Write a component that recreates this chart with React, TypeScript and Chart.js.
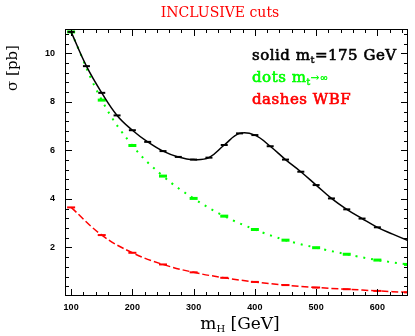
import React, { useEffect, useRef } from "react";
import { Chart, registerables } from "chart.js";

Chart.register(...registerables);

// ---- data ----
const blackMass = [100, 125, 150, 175, 200, 225, 250, 275, 300, 325, 350, 375, 400, 425, 450, 475, 500, 525, 550, 575, 600, 625, 650];
const blackXsec = [10.88, 9.47, 8.37, 7.44, 6.83, 6.35, 5.97, 5.73, 5.62, 5.70, 6.22, 6.70, 6.63, 6.17, 5.62, 5.12, 4.57, 4.02, 3.57, 3.19, 2.83, 2.55, 2.28];
const blackMarkerShown = [1, 1, 1, 1, 1, 1, 1, 1, 1, 1, 1, 1, 1, 1, 1, 1, 1, 1, 1, 1, 1, 0, 0];

const greenMass = [100, 150, 200, 250, 300, 350, 400, 450, 500, 550, 600, 650];
const greenXsec = [10.88, 8.07, 6.2, 4.94, 4.02, 3.29, 2.74, 2.3, 1.99, 1.72, 1.48, 1.3];

const redMass = [100, 150, 200, 250, 300, 350, 400, 450, 500, 550, 600, 650];
const redXsec = [3.65, 2.51, 1.78, 1.3, 0.975, 0.75, 0.58, 0.45, 0.35, 0.28, 0.21, 0.15];

const xTickValues = [100, 200, 300, 400, 500, 600];
const yTickValues = [2, 4, 6, 8, 10];
const xMinorStep = 20;
const yMinorStep = 0.4;

const titleText = "INCLUSIVE cuts";
const legendBlack = ["solid m", "t", "=175 GeV"];
const legendGreen = ["dots m", "t", "\u2192\u221E"];
const legendRed = "dashes WBF";
const yTitle = "\u03C3 [pb]";
const xTitle = ["m", "H", " [GeV]"];

const SERIF = '"DejaVu Serif", serif';

type Part = { text: string; font: string; dy: number; color: string; stroke?: number; spacing?: number };

function drawParts(ctx: CanvasRenderingContext2D, x: number, y: number, parts: Part[]) {
  let cx = x;
  for (const p of parts) {
    ctx.font = p.font;
    (ctx as any).letterSpacing = `${p.spacing || 0}px`;
    ctx.fillStyle = p.color;
    ctx.fillText(p.text, cx, y + p.dy);
    if (p.stroke) {
      ctx.strokeStyle = p.color;
      ctx.lineWidth = p.stroke;
      ctx.strokeText(p.text, cx, y + p.dy);
    }
    cx += ctx.measureText(p.text).width;
  }
  (ctx as any).letterSpacing = "0px";
}
function partsWidth(ctx: CanvasRenderingContext2D, parts: Part[]) {
  let w = 0;
  for (const p of parts) {
    ctx.font = p.font;
    (ctx as any).letterSpacing = `${p.spacing || 0}px`;
    w += ctx.measureText(p.text).width;
  }
  (ctx as any).letterSpacing = "0px";
  return w;
}

const framePlugin = {
  id: "frame",
  afterDraw(chart: any) {
    const ctx: CanvasRenderingContext2D = chart.ctx;
    const a = chart.chartArea;
    const xs = chart.scales.x;
    const ys = chart.scales.y;
    ctx.save();
    ctx.strokeStyle = "#000";
    ctx.lineWidth = 1;
    ctx.strokeRect(a.left + 0.5, a.top + 0.5, a.right - a.left - 1, a.bottom - a.top - 1);
    ctx.beginPath();
    for (let v = xTickValues[0]; v <= xs.max; v += xMinorStep) {
      const major = xTickValues.includes(v);
      const len = major ? 7 : 4;
      const px = Math.round(xs.getPixelForValue(v)) + 0.5;
      ctx.moveTo(px, a.bottom);
      ctx.lineTo(px, a.bottom - len);
      ctx.moveTo(px, a.top);
      ctx.lineTo(px, a.top + len);
    }
    for (let i = 1; i * yMinorStep <= ys.max; i++) {
      const v = i * yMinorStep;
      const major = yTickValues.some((t) => Math.abs(t - v) < 1e-6);
      const len = major ? 7 : 4;
      const py = Math.round(ys.getPixelForValue(v)) + 0.5;
      ctx.moveTo(a.left, py);
      ctx.lineTo(a.left + len, py);
      ctx.moveTo(a.right, py);
      ctx.lineTo(a.right - len, py);
    }
    ctx.stroke();

    ctx.textBaseline = "alphabetic";
    ctx.textAlign = "left";
    const tParts: Part[] = [{ text: titleText, font: `14px ${SERIF}`, dy: 0, color: "#ff0000" }];
    const tw = partsWidth(ctx, tParts);
    drawParts(ctx, 220 - tw / 2, 17, tParts);

    const big = `15px ${SERIF}`;
    const small = `10px ${SERIF}`;
    const sw = 0.6;
    const sp = 0.5;
    drawParts(ctx, 252, 60, [
      { text: legendBlack[0], font: big, dy: 0, color: "#000", stroke: sw, spacing: sp },
      { text: legendBlack[1], font: small, dy: 3, color: "#000", stroke: 0.4, spacing: sp },
      { text: legendBlack[2], font: big, dy: 0, color: "#000", stroke: sw, spacing: sp },
    ]);
    drawParts(ctx, 252, 82, [
      { text: legendGreen[0], font: big, dy: 0, color: "#00ff00", stroke: sw, spacing: sp },
      { text: legendGreen[1], font: small, dy: 3, color: "#00ff00", stroke: 0.4, spacing: sp },
      { text: legendGreen[2], font: small, dy: -1, color: "#00ff00", stroke: 0.4, spacing: sp },
    ]);
    drawParts(ctx, 252, 104, [{ text: legendRed, font: big, dy: 0, color: "#ff0000", stroke: sw, spacing: sp }]);

    const xParts: Part[] = [
      { text: xTitle[0], font: `17px ${SERIF}`, dy: 0, color: "#000" },
      { text: xTitle[1], font: `10px ${SERIF}`, dy: 3, color: "#000" },
      { text: xTitle[2], font: `17px ${SERIF}`, dy: 0, color: "#000" },
    ];
    const xw = partsWidth(ctx, xParts);
    drawParts(ctx, 240 - xw / 2, 329, xParts);

    ctx.save();
    ctx.translate(17, 68);
    ctx.rotate(-Math.PI / 2);
    const yParts: Part[] = [{ text: yTitle, font: `15px ${SERIF}`, dy: 0, color: "#000" }];
    const yw = partsWidth(ctx, yParts);
    drawParts(ctx, -yw / 2, 0, yParts);
    ctx.restore();

    ctx.restore();
  },
};

export default function App() {
  const ref = useRef<HTMLCanvasElement | null>(null);
  useEffect(() => {
    if (!ref.current) return;
    const chart = new Chart(ref.current, {
      type: "line",
      data: {
        datasets: [
          {
            label: "m_t=175 GeV",
            data: blackMass.map((m, i) => ({ x: m, y: blackXsec[i] })),
            borderColor: "#000",
            borderWidth: 1.5,
            tension: 0.4,
            pointStyle: "line",
            pointRadius: blackMarkerShown.map((s) => (s ? 3.5 : 0)),
            pointBorderWidth: 2,
            pointBorderColor: "#000",
            pointBackgroundColor: "#000",
          },
          {
            label: "m_t->inf",
            data: greenMass.map((m, i) => ({ x: m, y: greenXsec[i] })),
            borderColor: "#00ff00",
            borderWidth: 2,
            borderDash: [2, 6],
            tension: 0.4,
            pointStyle: "line",
            pointRadius: 4,
            pointBorderWidth: 3,
            pointBorderColor: "#00ff00",
          },
          {
            label: "WBF",
            data: redMass.map((m, i) => ({ x: m, y: redXsec[i] })),
            borderColor: "#ff0000",
            borderWidth: 1.5,
            borderDash: [7, 3],
            tension: 0.4,
            pointStyle: "line",
            pointRadius: 4,
            pointBorderWidth: 2,
            pointBorderColor: "#ff0000",
          },
        ],
      },
      options: {
        animation: false,
        responsive: true,
        maintainAspectRatio: false,
        layout: { padding: { top: 29, right: 2, left: 0, bottom: 0 } },
        plugins: { legend: { display: false }, tooltip: { enabled: false }, title: { display: false } },
        scales: {
          x: {
            type: "linear",
            min: 90,
            max: 650,
            afterBuildTicks: (s: any) => {
              s.ticks = xTickValues.map((v) => ({ value: v }));
            },
            afterFit: (s: any) => {
              s.height = 40;
            },
            grid: { display: false, drawTicks: false },
            border: { display: false },
            ticks: {
              padding: 6,
              color: "#000",
              font: { family: '"Liberation Sans", sans-serif', size: 9, weight: "bold" },
              maxRotation: 0,
              autoSkip: false,
            },
          },
          y: {
            type: "linear",
            min: 0,
            max: 11,
            afterBuildTicks: (s: any) => {
              s.ticks = yTickValues.map((v) => ({ value: v }));
            },
            afterFit: (s: any) => {
              s.width = 65;
            },
            grid: { display: false, drawTicks: false },
            border: { display: false },
            ticks: {
              padding: 10,
              color: "#000",
              font: { family: '"Liberation Sans", sans-serif', size: 9, weight: "bold" },
              autoSkip: false,
            },
          },
        },
      },
      plugins: [framePlugin],
    });
    return () => chart.destroy();
  }, []);
  return (
    <div style={{ position: "absolute", left: 0, top: 0, width: 415, height: 336 }}>
      <canvas ref={ref} />
    </div>
  );
}
